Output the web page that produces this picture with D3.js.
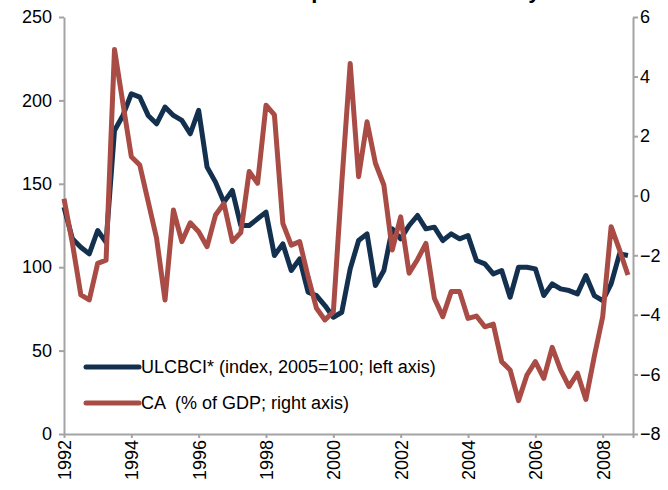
<!DOCTYPE html>
<html><head><meta charset="utf-8">
<script src="https://cdn.jsdelivr.net/npm/d3@7/dist/d3.min.js"></script>
<style>
html,body{margin:0;padding:0;background:#fff;}
svg{display:block;font-family:"Liberation Sans",Arial,sans-serif;}
</style></head>
<body><svg id="c" width="668" height="490"></svg>
<script>
const years = [1992,1993,1994,1995,1996,1997,1998,1999,2000,2001,2002,2003,2004,2005,2006,2007,2008];
const quarterOffsets = [0, 0.25, 0.5, 0.75];
const xTickLabels = [1992,1994,1996,1998,2000,2002,2004,2006,2008];
const leftTicks = [0,50,100,150,200,250];
const rightTicks = [-8,-6,-4,-2,0,2,4,6];
const ulcbci = [136,117,112,108,122,115,182,191,204,202,191,186,196,191,188,180,194,160,151,139,146,125,125,129,133,107,114,98,105,85,83,77,70,73,99,116,120,89,98,123,117,125,131,123,124,116,120,117,119,104,102,96,98,82,100,100,99,83,90,87,86,84,95,83,80,90,108,107];
const ca = [-0.1,-1.6,-3.33,-3.5,-2.27,-2.16,4.91,3.1,1.31,1.03,-0.2,-1.43,-3.5,-0.48,-1.54,-0.91,-1.21,-1.71,-0.65,-0.26,-1.54,-1.24,0.81,0.42,3.04,2.71,-0.93,-1.66,-1.54,-2.72,-3.78,-4.17,-3.9,0.42,4.44,0.64,2.48,1.09,0.36,-1.82,-0.71,-2.6,-2.14,-1.6,-3.44,-4.06,-3.22,-3.22,-4.12,-4.04,-4.4,-4.31,-5.57,-5.85,-6.88,-6.02,-5.57,-6.13,-5.09,-5.85,-6.41,-5.96,-6.84,-5.4,-4.06,-1.04,-1.82,-2.66];
const seriesNames = ["ULCBCI* (index, 2005=100; left axis)", "CA  (% of GDP; right axis)"];
const title = "Relative competitiveness in Turkey";

const periods = years.flatMap(y => quarterOffsets.map(q => y + q));

const svg = d3.select("#c");
const L = 64, R = 633, T = 17, B = 434;
const x = d3.scaleLinear().domain([1992, 2008.9]).range([L, R]);
const yL = d3.scaleLinear().domain([0, 250]).range([B, T]);
const yR = d3.scaleLinear().domain([-8, 6]).range([B, T]);
const axisColor = "#a3a3a3";
const navy = "#14304f", red = "#a94c45";

svg.append("text").attr("x", 358).attr("y", -2).attr("text-anchor", "middle")
  .attr("font-size", 22).attr("font-weight", "bold").attr("fill", "#000").text(title);

function styleAxis(g){
  g.select(".domain").attr("stroke", axisColor).attr("stroke-width", 2);
  g.selectAll(".tick line").attr("stroke", axisColor).attr("stroke-width", 2);
  g.selectAll(".tick text").attr("fill", "#000").attr("font-size", 18)
   .attr("font-family", "'Liberation Sans',Arial,sans-serif");
}

const gl = svg.append("g").attr("transform", `translate(${L},0)`)
  .call(d3.axisLeft(yL).tickValues(leftTicks).tickSize(5).tickSizeOuter(0).tickPadding(7));
styleAxis(gl);
const gr = svg.append("g").attr("transform", `translate(${R},0)`)
  .call(d3.axisRight(yR).tickValues(rightTicks).tickSize(5).tickSizeOuter(0).tickPadding(2));
styleAxis(gr);
const gb = svg.append("g").attr("transform", `translate(0,${B})`)
  .call(d3.axisBottom(x).tickValues(xTickLabels.concat([2008.9])).tickFormat(d => xTickLabels.includes(d) ? String(d) : "").tickSize(4).tickSizeOuter(0));
styleAxis(gb);
gb.selectAll(".tick text").attr("transform", "rotate(-90)").attr("text-anchor", "end")
  .attr("x", -6).attr("y", 0).attr("dy", "0.36em");

const lineL = d3.line().x((d, i) => x(periods[i])).y(d => yL(d));
const lineR = d3.line().x((d, i) => x(periods[i])).y(d => yR(d));
svg.append("path").datum(ulcbci).attr("d", lineL).attr("fill", "none")
  .attr("stroke", navy).attr("stroke-width", 5).attr("stroke-linejoin", "round");
svg.append("path").datum(ca).attr("d", lineR).attr("fill", "none")
  .attr("stroke", red).attr("stroke-width", 5).attr("stroke-linejoin", "round");

const legend = svg.append("g");
[[navy, 367], [red, 403]].forEach(([c, yy], k) => {
  legend.append("line").attr("x1", 86).attr("x2", 139).attr("y1", yy).attr("y2", yy)
    .attr("stroke", c).attr("stroke-width", 5).attr("stroke-linecap", "round");
  legend.append("text").attr("x", 141).attr("y", yy).attr("dy", "0.35em")
    .attr("font-size", 18).attr("fill", "#000").attr("xml:space", "preserve")
    .style("white-space", "pre").text(seriesNames[k]);
});
</script></body></html>
